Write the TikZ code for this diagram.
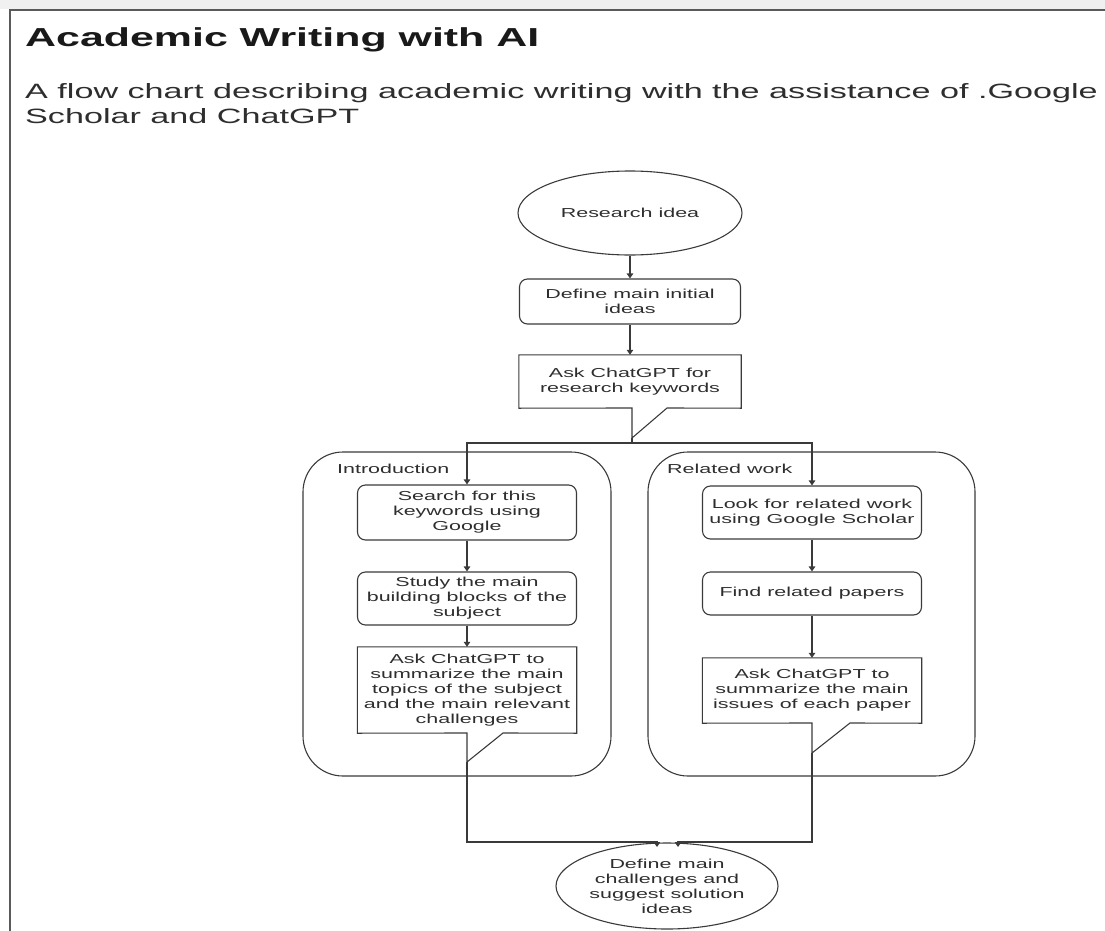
\documentclass[tikz,border=0pt]{standalone}
\usepackage{fontspec}
\setmainfont{Liberation Sans}[FakeStretch=1.65]
\usetikzlibrary{arrows.meta,shapes.geometric}
\definecolor{linec}{HTML}{3A3A3A}
\definecolor{txt}{HTML}{2E2E2E}
\definecolor{framec}{HTML}{5A5A5A}
\begin{document}
\begin{tikzpicture}[x=1pt,y=-1pt,
  line/.style={draw=linec, line width=1.1pt},
  arr/.style={line, -{Triangle[length=5pt,width=6.5pt]}},
  txtstyle/.style={text=txt, font=\fontsize{13}{15}\selectfont, align=center, inner sep=0pt},
  box/.style={line, txtstyle, rounded corners=8pt, minimum width=219pt},
  cbox/.style={txtstyle, minimum width=219pt},
  ell/.style={line, txtstyle, ellipse},
  cont/.style={line, rounded corners=40pt, inner sep=0pt},
  lbl/.style={text=txt, font=\fontsize{13}{15}\selectfont, inner sep=0pt}
]
\useasboundingbox (0,0) rectangle (1105,931);
\fill[black!6] (0,0) rectangle (1105,9);
\draw[framec, line width=1.5pt] (1105,10) -- (10,10) -- (10,931);

% titles
\node[anchor=base west, inner sep=0pt, text=black!90, font=\fontsize{26}{30}\selectfont\bfseries] (title) at (25,47) {Academic Writing with AI};
\node[anchor=base west, inner sep=0pt, text=txt, font=\fontsize{20.7}{25}\selectfont] (sub1) at (25,99) {A flow chart describing academic writing with the assistance of .Google};
\node[anchor=base west, inner sep=0pt, text=txt, font=\fontsize{20.7}{25}\selectfont] (sub2) at (25,124) {Scholar and ChatGPT};

% containers
\node[cont, minimum width=308pt, minimum height=324pt] (c1) at (457,614) {};
\node[cont, minimum width=327pt, minimum height=324pt] (c2) at (811.5,614) {};
\node[lbl, anchor=west] (c1l) at (337,469) {Introduction};
\node[lbl, anchor=west] (c2l) at (667,469) {Related work};

% top flow
\node[ell, minimum width=224pt, minimum height=84pt] (r1) at (630,213) {Research idea};
\node[box, minimum width=221pt, minimum height=45pt] (d1) at (630,301.5) {Define main initial\\ideas};
\node[cbox, minimum width=222pt, minimum height=53pt] (k1) at (630,381.5) {Ask ChatGPT for\\research keywords};
\coordinate (k1t) at (632,438);
\draw[line] (k1.north west) -- (k1.north east) -- (k1.south east) -- (667,408) -- (k1t) -- (632,408) -- (k1.south west) -- cycle;

% left column
\node[box, minimum height=55pt] (s1) at (467,512.5) {Search for this\\keywords using\\Google};
\node[box, minimum height=53pt] (s2) at (467,598.5) {Study the main\\building blocks of the\\subject};
\node[cbox, minimum height=86pt] (s3) at (467,690) {Ask ChatGPT to\\summarize the main\\topics of the subject\\and the main relevant\\challenges};
\coordinate (s3t) at (467,762);
\draw[line] (s3.north west) -- (s3.north east) -- (s3.south east) -- (503,733) -- (s3t) -- (467,733) -- (s3.south west) -- cycle;

% right column
\node[box, minimum height=53pt] (l1) at (812,512.5) {Look for related work\\using Google Scholar};
\node[box, minimum height=43pt] (l2) at (812,593.5) {Find related papers};
\node[cbox, minimum height=65pt] (l3) at (812,690.5) {Ask ChatGPT to\\summarize the main\\issues of each paper};
\coordinate (l3t) at (812,753);
\draw[line] (l3.north west) -- (l3.north east) -- (l3.south east) -- (850,723) -- (l3t) -- (812,723) -- (l3.south west) -- cycle;

% end
\node[ell, minimum width=222pt, minimum height=86pt] (e2) at (667,886) {Define\enspace main\\challenges and\\suggest solution\\ideas};

% connectors
\draw[arr] (r1.south) -- (d1.north);
\draw[arr] (d1.south) -- (k1.north);
\coordinate (split) at (632,443);
\draw[line] (k1t) -- (split);
\draw[arr] (split) -| (s1.north);
\draw[arr] (split) -| (l1.north);
\draw[arr] (s1.south) -- (s2.north);
\draw[arr] (s2.south) -- (s3.north);
\draw[arr] (l1.south) -- (l2.north);
\draw[arr] (l2.south) -- (l3.north);
\draw[arr] (s3t) -- (467,842) -- (657,842) -- (657,847);
\draw[arr] (l3t) -- (812,842) -- (678,842) -- (678,847);
\end{tikzpicture}
\end{document}
